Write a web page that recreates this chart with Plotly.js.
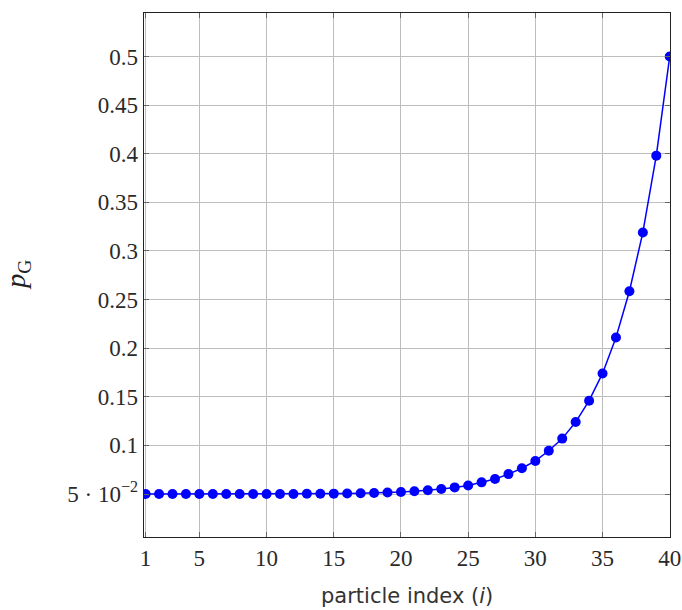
<!DOCTYPE html>
<html>
<head>
<meta charset="utf-8">
<script src="https://cdn.plot.ly/plotly-3.0.1.min.js"></script>
<style>html,body{margin:0;padding:0;background:#fff;}#chart{width:682px;height:610px;}</style>
</head>
<body>
<div id="chart"></div>
<script>
const particleIndex = [1,2,3,4,5,6,7,8,9,10,11,12,13,14,15,16,17,18,19,20,21,22,23,24,25,26,27,28,29,30,31,32,33,34,35,36,37,38,39,40];
const pG = [0.0500,0.0500,0.0500,0.0500,0.0500,0.0500,0.0500,0.0500,0.0500,0.0501,
            0.0501,0.0501,0.0502,0.0503,0.0504,0.0506,0.0508,0.0511,0.0515,0.0521,
            0.0529,0.0539,0.0552,0.0568,0.0588,0.0620,0.0655,0.0705,0.0765,0.0840,
            0.0945,0.1070,0.1240,0.1460,0.1740,0.2110,0.2585,0.3190,0.3980,0.5000];
const xTickVals = [1,5,10,15,20,25,30,35,40];
const xTickText = ['1','5','10','15','20','25','30','35','40'];
const yTickVals = [0.05,0.1,0.15,0.2,0.25,0.3,0.35,0.4,0.45,0.5];
const yTickText = ['5 · 10<sup>−2</sup>','0.1','0.15','0.2','0.25','0.3','0.35','0.4','0.45','0.5'];
const xTitle = 'particle index (<i>i</i>)';
const yTitle = '<i>p</i><sub>G</sub>';

const serif = 'Liberation Serif, DejaVu Serif, serif';

const trace = {
  x: particleIndex, y: pG, type: 'scatter', mode: 'lines+markers',
  line: {color: '#0000ff', width: 1.5},
  marker: {color: '#0000ff', size: 10},
  hoverinfo: 'skip'
};

const axisCommon = {
  showline: true, linecolor: '#222', linewidth: 1.3, mirror: 'ticks',
  ticks: 'inside', ticklen: 5, tickcolor: '#666', tickwidth: 1,
  showgrid: true, gridcolor: '#bdbdbd', gridwidth: 1,
  zeroline: false, fixedrange: true,
  tickfont: {family: serif, size: 23, color: '#2a2a2a'}
};

const layout = {
  width: 682, height: 610,
  margin: {l: 144, r: 12, t: 13, b: 73},
  paper_bgcolor: '#fff', plot_bgcolor: '#fff',
  showlegend: false,
  xaxis: Object.assign({}, axisCommon, {
    range: [0.88, 40.02],
    tickmode: 'array', tickvals: xTickVals, ticktext: xTickText
  }),
  yaxis: Object.assign({}, axisCommon, {
    range: [0.0058, 0.5447],
    tickmode: 'array', tickvals: yTickVals, ticktext: yTickText
  }),
  annotations: [
    {text: xTitle, xref: 'paper', yref: 'paper', x: 0.5, y: -0.1126,
     xanchor: 'center', yanchor: 'middle', showarrow: false,
     font: {family: 'DejaVu Sans, sans-serif', size: 21, color: '#333'}},
    {text: yTitle, xref: 'paper', yref: 'paper', x: -0.242, y: 0.5,
     xanchor: 'center', yanchor: 'middle', showarrow: false, textangle: -90,
     font: {family: serif, size: 28, color: '#222'}}
  ]
};

Plotly.newPlot('chart', [trace], layout, {displayModeBar: false, staticPlot: true});
</script>
</body>
</html>
